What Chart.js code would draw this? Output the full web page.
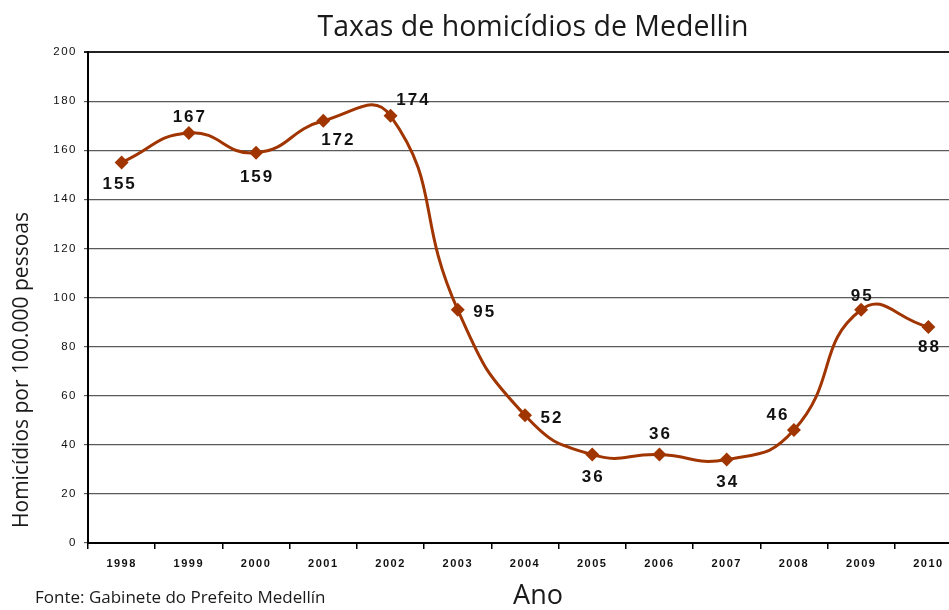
<!DOCTYPE html>
<html>
<head>
<meta charset="utf-8">
<script src="https://cdn.jsdelivr.net/npm/chart.js@4/dist/chart.umd.min.js"></script>
<style>
  html, body { margin: 0; padding: 0; background: #fff; overflow: hidden; }
  #wrap { width: 949px; height: 610px; overflow: hidden; position: relative; }
</style>
</head>
<body>
<div id="wrap"><canvas id="myChart" width="969" height="610"></canvas></div>
<script>
const years = ['1998', '1999', '2000', '2001', '2002', '2003', '2004', '2005', '2006', '2007', '2008', '2009', '2010'];
const rates = [155, 167, 159, 172, 174, 95, 52, 36, 36, 34, 46, 95, 88];
const yTicks = [0, 20, 40, 60, 80, 100, 120, 140, 160, 180, 200];

// where each value label sits relative to its point
const labelOffsets = [[-3, 22], [0, -16], [0, 25], [14, 20], [22, -16], [26, 3], [26, 3],
    [0, 23], [0, -20], [0, 23], [-17, -15], [0, -13], [0, 20]];

const brown = '#a03500';

const textPlugin = {
    id: 'texts',
    beforeDraw(chart) {
        chart.ctx.letterSpacing = '1.5px';
    },
    afterDatasetsDraw(chart) {
        const ctx = chart.ctx;
        const meta = chart.getDatasetMeta(0);
        ctx.save();
        ctx.fillStyle = '#111';
        ctx.font = 'bold 17px "Liberation Sans", Arial, sans-serif';
        ctx.letterSpacing = '2px';
        ctx.textAlign = 'center';
        ctx.textBaseline = 'middle';
        meta.data.forEach((pt, i) => {
            const off = labelOffsets[i];
            ctx.fillText(String(rates[i]), pt.x + off[0] + 1, pt.y + off[1]);
        });
        ctx.letterSpacing = '0px';
        ctx.fillStyle = '#1a1a1a';
        ctx.font = '28.5px "Open Sans", sans-serif';
        ctx.fillText('Taxas de homicídios de Medellin', 533, 28);
        ctx.font = '27px "Open Sans", sans-serif';
        ctx.fillText('Ano', 538, 596);
        ctx.font = '17px "Open Sans", sans-serif';
        ctx.textAlign = 'left';
        ctx.fillText('Fonte: Gabinete do Prefeito Medellín', 35, 598);
        ctx.translate(22, 370);
        ctx.rotate(-Math.PI / 2);
        ctx.textAlign = 'center';
        ctx.font = '21px "Open Sans", sans-serif';
        ctx.fillText('Homicídios por 100.000 pessoas', 0, 0);
        ctx.restore();
    }
};

const ctx = document.getElementById('myChart').getContext('2d');
const myChart = new Chart(ctx, {
    type: 'line',
    data: {
        labels: years,
        datasets: [{
            data: rates,
            borderColor: brown,
            backgroundColor: brown,
            borderWidth: 3,
            tension: 0.5,
            pointStyle: 'rectRot',
            pointRadius: 7,
            pointHoverRadius: 7,
            pointBackgroundColor: brown,
            pointBorderWidth: 0
        }]
    },
    options: {
        responsive: false,
        animation: false,
        events: [],
        layout: { padding: { top: 52, right: 0, left: 0, bottom: 0 } },
        plugins: { legend: { display: false }, tooltip: { enabled: false }, title: { display: false } },
        scales: {
            x: {
                offset: true,
                grid: {
                    offset: true,
                    drawOnChartArea: false,
                    tickLength: 6,
                    color: '#000',
                    lineWidth: 1.5
                },
                border: { color: '#000', width: 2 },
                ticks: {
                    color: '#111',
                    font: { family: '"Liberation Sans", Arial, sans-serif', size: 11, weight: 'bold' },
                    padding: 8,
                    maxRotation: 0
                },
                afterFit(scale) { scale.height = 67; }
            },
            y: {
                min: 0,
                max: 200,
                afterBuildTicks(scale) { scale.ticks = yTicks.map(v => ({ value: v })); },
                grid: {
                    tickLength: 4,
                    color: (c) => c.tick && c.tick.value === 200 ? '#222' : '#5a5a5a',
                    lineWidth: (c) => c.tick && c.tick.value === 200 ? 2 : 1.2
                },
                border: { color: '#000', width: 2 },
                ticks: {
                    color: '#111',
                    font: { family: '"Liberation Sans", Arial, sans-serif', size: 11.5 },
                    padding: 7
                },
                afterFit(scale) { scale.width = 88; }
            }
        }
    },
    plugins: [textPlugin]
});
</script>
</body>
</html>
